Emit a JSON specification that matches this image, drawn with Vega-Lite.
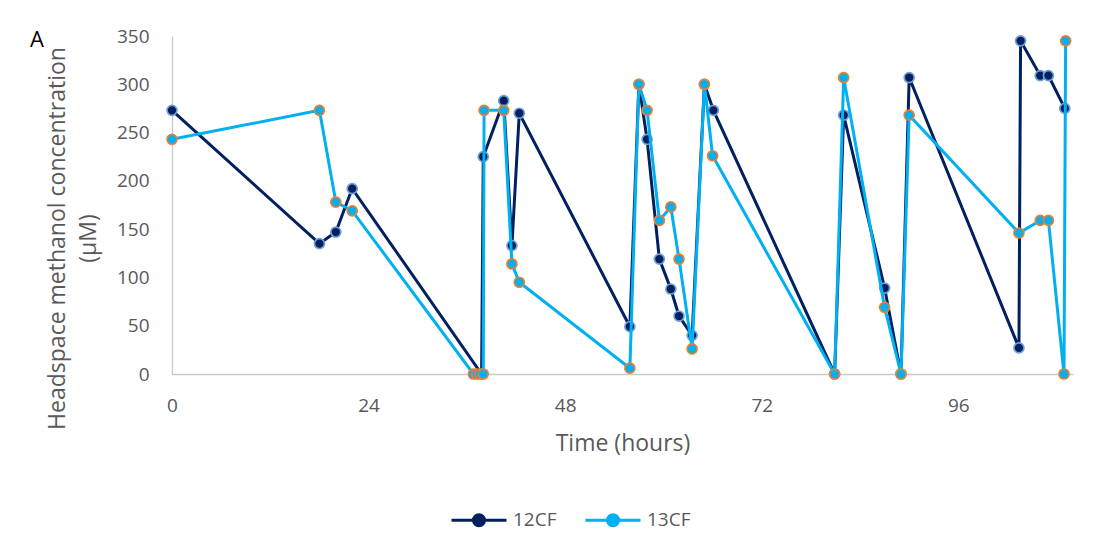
{
  "$schema": "https://vega.github.io/schema/vega-lite/v6.json",
  "width": 901,
  "height": 338,
  "autosize": {"type": "none"},
  "padding": {"left": 172, "top": 36, "right": 46, "bottom": 177},
  "background": "white",
  "config": {"view": {"stroke": null}, "font": "Open Sans"},
  "title": {"text": "A", "anchor": "start", "frame": "group", "dx": -142, "dy": 42, "offset": 0, "fontSize": 22, "fontWeight": "normal", "color": "#000000", "baseline": "alphabetic"},
  "data": {"values": [
    {"series": "12CF", "t": 0, "y": 273},
    {"series": "12CF", "t": 18.0, "y": 135},
    {"series": "12CF", "t": 20.0, "y": 147},
    {"series": "12CF", "t": 22.0, "y": 192},
    {"series": "12CF", "t": 37.8, "y": 0},
    {"series": "12CF", "t": 38.0, "y": 225},
    {"series": "12CF", "t": 40.5, "y": 283},
    {"series": "12CF", "t": 41.5, "y": 133},
    {"series": "12CF", "t": 42.4, "y": 270},
    {"series": "12CF", "t": 55.9, "y": 49},
    {"series": "12CF", "t": 57.0, "y": 300},
    {"series": "12CF", "t": 58.0, "y": 243},
    {"series": "12CF", "t": 59.5, "y": 119},
    {"series": "12CF", "t": 60.9, "y": 88},
    {"series": "12CF", "t": 61.9, "y": 60},
    {"series": "12CF", "t": 63.5, "y": 40},
    {"series": "12CF", "t": 65.0, "y": 300},
    {"series": "12CF", "t": 66.1, "y": 273},
    {"series": "12CF", "t": 80.9, "y": 0},
    {"series": "12CF", "t": 82.0, "y": 268},
    {"series": "12CF", "t": 87.0, "y": 89},
    {"series": "12CF", "t": 89.0, "y": 0},
    {"series": "12CF", "t": 90.0, "y": 307},
    {"series": "12CF", "t": 103.4, "y": 27},
    {"series": "12CF", "t": 103.6, "y": 345},
    {"series": "12CF", "t": 106.0, "y": 309},
    {"series": "12CF", "t": 107.0, "y": 309},
    {"series": "12CF", "t": 109.0, "y": 275},
    {"series": "13CF", "t": 0, "y": 243},
    {"series": "13CF", "t": 18.0, "y": 273},
    {"series": "13CF", "t": 20.0, "y": 178},
    {"series": "13CF", "t": 22.0, "y": 169},
    {"series": "13CF", "t": 36.8, "y": 0},
    {"series": "13CF", "t": 37.2, "y": 0},
    {"series": "13CF", "t": 37.6, "y": 0},
    {"series": "13CF", "t": 38.0, "y": 0},
    {"series": "13CF", "t": 38.1, "y": 273},
    {"series": "13CF", "t": 40.5, "y": 273},
    {"series": "13CF", "t": 41.5, "y": 114},
    {"series": "13CF", "t": 42.4, "y": 95},
    {"series": "13CF", "t": 55.9, "y": 6},
    {"series": "13CF", "t": 57.0, "y": 300},
    {"series": "13CF", "t": 58.0, "y": 273},
    {"series": "13CF", "t": 59.5, "y": 159},
    {"series": "13CF", "t": 60.9, "y": 173},
    {"series": "13CF", "t": 61.9, "y": 119},
    {"series": "13CF", "t": 63.5, "y": 26},
    {"series": "13CF", "t": 65.0, "y": 300},
    {"series": "13CF", "t": 66.0, "y": 226},
    {"series": "13CF", "t": 80.9, "y": 0},
    {"series": "13CF", "t": 82.0, "y": 307},
    {"series": "13CF", "t": 87.0, "y": 69},
    {"series": "13CF", "t": 89.0, "y": 0},
    {"series": "13CF", "t": 90.0, "y": 268},
    {"series": "13CF", "t": 103.4, "y": 146},
    {"series": "13CF", "t": 106.0, "y": 159},
    {"series": "13CF", "t": 107.0, "y": 159},
    {"series": "13CF", "t": 108.9, "y": 0},
    {"series": "13CF", "t": 109.1, "y": 345}
  ]},
  "encoding": {
    "x": {"field": "t", "type": "quantitative", "scale": {"domain": [0, 110], "nice": false, "zero": false},
      "axis": {"values": [0, 24, 48, 72, 96], "grid": false, "ticks": false, "tickSize": 0, "domainColor": "#c9c9c9", "domainWidth": 1.3,
        "labelFontSize": 19, "labelColor": "#595959", "labelPadding": 22, "labelFlush": false,
        "title": "Time (hours)", "titleFontSize": 23, "titleColor": "#595959", "titleFontWeight": "normal", "titleBaseline": "alphabetic", "titleY": 76}},
    "y": {"field": "y", "type": "quantitative", "scale": {"domain": [0, 350], "nice": false},
      "axis": {"values": [0, 50, 100, 150, 200, 250, 300, 350], "grid": false, "ticks": false, "tickSize": 0, "domainColor": "#c9c9c9", "domainWidth": 1.3,
        "labelFontSize": 19, "labelColor": "#595959", "labelPadding": 23, "labelFlush": false,
        "title": ["Headspace methanol concentration", "(µM)"], "titleFontSize": 23, "titleColor": "#595959", "titleFontWeight": "normal",
        "titleLineHeight": 31, "titleX": -103, "titleY": 202, "titleBaseline": "bottom", "titleAlign": "center", "titleAngle": 270}},
    "color": {"field": "series", "type": "nominal", "scale": {"domain": ["12CF", "13CF"], "range": ["#002060", "#00B0F0"]},
      "legend": {"title": null, "orient": "none", "legendX": 278, "legendY": 455, "direction": "horizontal",
        "symbolType": "M-1,0L1,0M0.2,0A0.2,0.2,0,1,1,-0.2,0A0.2,0.2,0,1,1,0.2,0Z",
        "symbolSize": 3025, "symbolStrokeWidth": 3, "labelFontSize": 19, "labelColor": "#595959", "labelOffset": 5, "columnPadding": 22,
        "encode": {"symbols": {"update": {"fill": {"scale": "color", "field": "value"}, "stroke": {"scale": "color", "field": "value"}, "strokeWidth": {"value": 3}, "opacity": {"value": 1}, "size": {"value": 3025}}}}}}
  },
  "layer": [
    {"transform": [{"filter": "datum.series === '12CF'"}], "mark": {"type": "line", "strokeWidth": 3}},
    {"transform": [{"filter": "datum.series === '12CF'"}], "mark": {"type": "point", "shape": "circle", "filled": true, "size": 100, "strokeWidth": 1.7, "stroke": "#6FA0D8", "opacity": 1}},
    {"transform": [{"filter": "datum.series === '13CF'"}], "mark": {"type": "line", "strokeWidth": 3}},
    {"transform": [{"filter": "datum.series === '13CF'"}], "mark": {"type": "point", "shape": "circle", "filled": true, "size": 100, "strokeWidth": 1.7, "stroke": "#ED7D31", "opacity": 1}}
  ]
}
